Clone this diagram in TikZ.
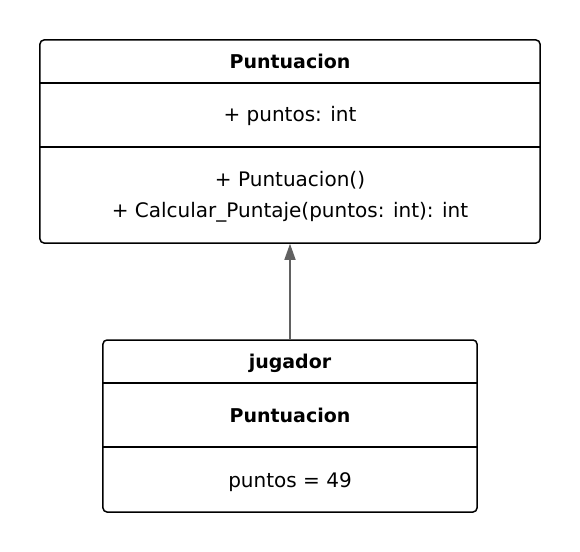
\documentclass[tikz,border=0pt]{standalone}
\usepackage{fontspec}
\setmainfont{DejaVu Sans}
\usetikzlibrary{arrows.meta}
\begin{document}
\begin{tikzpicture}[x=1bp,y=-1bp,
  box/.style={draw=black,line width=1.5bp,rounded corners=4bp},
  sep/.style={draw=black,line width=1.5bp},
  txt/.style={font=\fontsize{20bp}{23bp}\selectfont,inner sep=0pt,anchor=base},
  btxt/.style={txt,font=\fontsize{19bp}{23bp}\selectfont\bfseries},
  conn/.style={draw=black!62,line width=1.5bp,-{Triangle[length=16bp,width=11bp]}}]
\useasboundingbox (0,0) rectangle (580,552);
% top class
\node[box,minimum width=500bp,minimum height=203bp,inner sep=0pt] (P) at (290,141.5) {};
\draw[sep] (40,83) -- (540,83);
\draw[sep] (40,147) -- (540,147);
\node[btxt] (pt) at (290,69) {Puntuacion};
\node[txt] (pa) at (290,122) {+ puntos: int};
\node[txt] (pm1) at (290,187) {+ Puntuacion()};
\node[txt] (pm2) at (290,218) {+ Calcular\_Puntaje(puntos: int): int};
% bottom object
\node[box,minimum width=374bp,minimum height=172bp,inner sep=0pt] (J) at (290,426) {};
\draw[sep] (103,383) -- (477,383);
\draw[sep] (103,447) -- (477,447);
\node[btxt] (jt) at (290,368) {jugador};
\node[btxt] (jc) at (290,422) {Puntuacion};
\node[txt] (jv) at (290,487) {puntos = 49};
\draw[conn] (J.north) -- (P.south);
\end{tikzpicture}
\end{document}
